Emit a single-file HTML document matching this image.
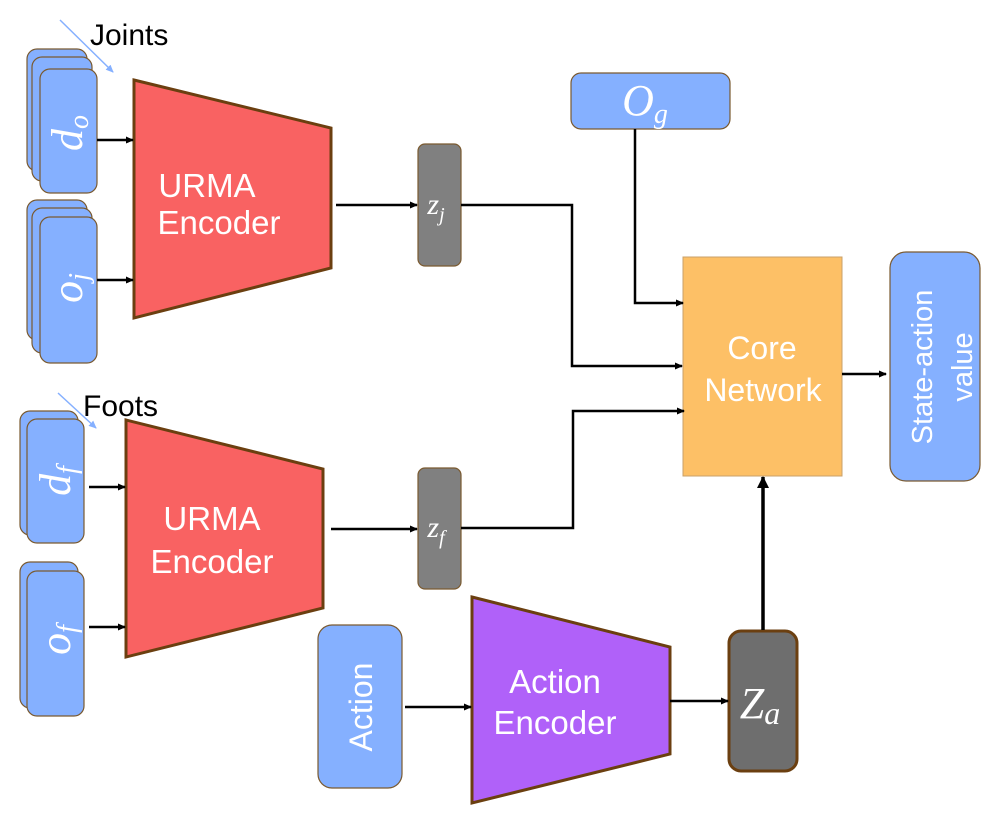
<!DOCTYPE html>
<html><head><meta charset="utf-8"><style>
html,body{margin:0;padding:0;background:#fff;}
svg{display:block;}
.s{font-family:"Liberation Sans",sans-serif;fill:#fff;}
.m{font-family:"Liberation Serif",serif;font-style:italic;fill:#fff;}
</style></head><body>
<svg width="997" height="820" viewBox="0 0 997 820" xmlns="http://www.w3.org/2000/svg">
<defs>
<marker id="a" markerWidth="8" markerHeight="8" refX="7" refY="4" orient="auto" markerUnits="userSpaceOnUse"><path d="M0,0.5 L8,4 L0,7.5z" fill="#000"/></marker>
<marker id="b" markerWidth="12" markerHeight="12" refX="11" refY="6" orient="auto" markerUnits="userSpaceOnUse"><path d="M0,0 L12,6 L0,12z" fill="#000"/></marker>
<marker id="c" markerWidth="8" markerHeight="8" refX="7" refY="4" orient="auto" markerUnits="userSpaceOnUse"><path d="M0,0.5 L8,4 L0,7.5z" fill="#85b0ff"/></marker>
</defs>
<g fill="#85b0ff" stroke="#7a5a30" stroke-width="1.2">
<rect x="27" y="49" width="60" height="122" rx="10"/>
<rect x="32" y="57" width="60" height="124" rx="10"/>
<rect x="40" y="69" width="57" height="124" rx="10"/>
<rect x="27" y="200" width="60" height="140" rx="10"/>
<rect x="32" y="208" width="60" height="145" rx="10"/>
<rect x="40" y="217" width="57" height="146" rx="10"/>
<rect x="20" y="411" width="58" height="124" rx="10"/>
<rect x="27" y="419" width="57" height="124" rx="10"/>
<rect x="20" y="562" width="58" height="146" rx="10"/>
<rect x="27" y="571" width="57" height="145" rx="10"/>
<rect x="318" y="625" width="84" height="163" rx="14"/>
<rect x="571" y="73" width="159" height="56" rx="10"/>
<rect x="890" y="252" width="90" height="229" rx="16"/>
</g>
<text class="m" font-size="44" transform="translate(82,133) rotate(-90)" text-anchor="middle">d<tspan font-size="28" dy="6">o</tspan></text>
<text class="m" font-size="44" transform="translate(82,288) rotate(-90)" text-anchor="middle">o<tspan font-size="28" dy="6">j</tspan></text>
<text class="m" font-size="44" transform="translate(70,481) rotate(-90)" text-anchor="middle">d<tspan font-size="28" dy="6">f</tspan></text>
<text class="m" font-size="44" transform="translate(70,640) rotate(-90)" text-anchor="middle">o<tspan font-size="28" dy="6">f</tspan></text>
<text class="s" font-size="32" transform="translate(372,707) rotate(-90)" text-anchor="middle">Action</text>
<text class="m" font-size="44" x="645" y="115" text-anchor="middle">O<tspan font-size="28" dy="8">g</tspan></text>
<text class="s" font-size="29" transform="translate(932,367) rotate(-90)" text-anchor="middle">State-action</text>
<text class="s" font-size="29" transform="translate(972,367) rotate(-90)" text-anchor="middle">value</text>

<polygon points="134,80 331,128 331,268 134,318" fill="#f96262" stroke="#6b3f10" stroke-width="3"/>
<polygon points="126,420 323,469 323,608 126,657" fill="#f96262" stroke="#6b3f10" stroke-width="3"/>
<polygon points="472,597 670,647 670,754 472,803" fill="#b061f9" stroke="#6b3f10" stroke-width="3"/>
<text class="s" font-size="33" x="207" y="197" text-anchor="middle">URMA</text>
<text class="s" font-size="33" x="219" y="234" text-anchor="middle">Encoder</text>
<text class="s" font-size="33" x="212" y="530" text-anchor="middle">URMA</text>
<text class="s" font-size="33" x="212" y="573" text-anchor="middle">Encoder</text>
<text class="s" font-size="33" x="555" y="693" text-anchor="middle">Action</text>
<text class="s" font-size="33" x="555" y="734" text-anchor="middle">Encoder</text>

<rect x="418" y="144" width="43" height="122" rx="7" fill="#808080" stroke="#7a5a30" stroke-width="1.2"/>
<rect x="418" y="468" width="43" height="121" rx="7" fill="#808080" stroke="#7a5a30" stroke-width="1.2"/>
<rect x="729" y="631" width="68" height="140" rx="12" fill="#6e6e6e" stroke="#6b3f10" stroke-width="3"/>
<text class="m" font-size="30" x="436" y="214" text-anchor="middle">z<tspan font-size="20" dy="7">j</tspan></text>
<text class="m" font-size="30" x="436" y="537" text-anchor="middle">z<tspan font-size="20" dy="7">f</tspan></text>
<text class="m" font-size="44" x="760" y="718" text-anchor="middle">Z<tspan font-size="32" dy="6">a</tspan></text>

<rect x="683" y="257" width="159" height="219" fill="#fdc066" stroke="#c9a06a" stroke-width="1"/>
<text class="s" font-size="32" x="762" y="359" text-anchor="middle">Core</text>
<text class="s" font-size="32" x="763" y="401" text-anchor="middle">Network</text>

<g stroke="#000" stroke-width="2.5" fill="none">
<line x1="97" y1="140" x2="133" y2="140" marker-end="url(#a)"/>
<line x1="97" y1="280" x2="133" y2="280" marker-end="url(#a)"/>
<line x1="89" y1="487" x2="125" y2="487" marker-end="url(#a)"/>
<line x1="89" y1="627" x2="125" y2="627" marker-end="url(#a)"/>
<line x1="336" y1="205" x2="417" y2="205" marker-end="url(#a)"/>
<line x1="331" y1="529" x2="417" y2="529" marker-end="url(#a)"/>
<polyline points="461,205 572,205 572,366 682,366" marker-end="url(#a)"/>
<polyline points="461,528 573,528 573,411 684,411" marker-end="url(#a)"/>
<polyline points="635,129 635,303 683,303" marker-end="url(#a)"/>
<line x1="842" y1="374" x2="886" y2="374" marker-end="url(#a)"/>
<line x1="405" y1="707" x2="471" y2="707" marker-end="url(#a)"/>
<line x1="670" y1="701" x2="728" y2="701" marker-end="url(#a)"/>
<line x1="763" y1="630" x2="763" y2="477" stroke-width="3.5" marker-end="url(#b)"/>
</g>
<line x1="60" y1="20" x2="113" y2="72" stroke="#85b0ff" stroke-width="1.5" marker-end="url(#c)"/>
<line x1="58" y1="393" x2="96" y2="428" stroke="#85b0ff" stroke-width="1.5" marker-end="url(#c)"/>
<text font-family="Liberation Sans,sans-serif" font-size="30" x="90" y="45" fill="#000">Joints</text>
<text font-family="Liberation Sans,sans-serif" font-size="30" x="83" y="416" fill="#000">Foots</text>
</svg>
</body></html>
